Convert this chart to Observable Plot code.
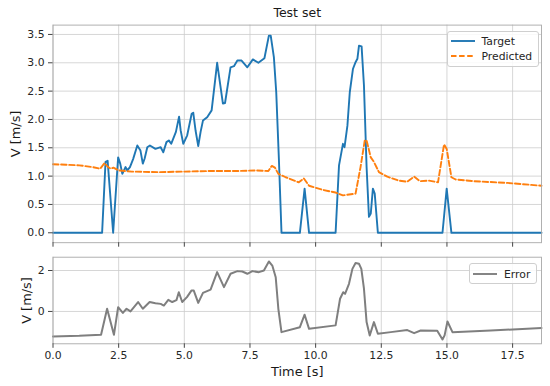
<!DOCTYPE html>
<html><head><meta charset="utf-8">
<script src="https://cdn.jsdelivr.net/npm/d3@7"></script>
<script src="https://cdn.jsdelivr.net/npm/@observablehq/plot@0.6"></script>
<style>
body{margin:0;background:#fff;}
#wrap{position:relative;width:550px;height:386px;font-family:"DejaVu Sans",sans-serif;color:#262626;}
#wrap svg{display:block;}
.panel{position:absolute;left:0;}
.legend{position:absolute;border:1px solid #cfcfcf;border-radius:3px;background:rgba(255,255,255,0.85);box-sizing:border-box;font-size:10.8px;}
.legend .row{position:absolute;left:0;height:14px;display:flex;align-items:center;white-space:nowrap;}
.legend .row svg{margin-right:7px;}
</style></head><body><div id="wrap"></div>
<script>
// ---- data ----
const targetT = [0,1.87,2.0,2.08,2.29,2.48,2.56,2.64,2.76,2.83,2.93,3.05,3.21,3.33,3.42,3.49,3.59,3.69,3.90,4.10,4.20,4.32,4.41,4.50,4.68,4.80,4.86,4.96,5.11,5.28,5.34,5.43,5.53,5.62,5.71,5.87,6.04,6.25,6.47,6.55,6.76,6.89,7.02,7.18,7.40,7.61,7.82,8.05,8.22,8.29,8.41,8.50,8.60,8.70,9.40,9.58,9.75,10.76,10.89,11.04,11.10,11.21,11.30,11.42,11.52,11.59,11.65,11.75,11.84,11.94,12.03,12.10,12.18,12.25,12.37,14.83,14.99,15.17,18.6];
const targetV = [0,0,1.25,1.27,0,1.33,1.22,1.04,1.16,1.10,1.16,1.30,1.54,1.45,1.22,1.31,1.51,1.54,1.48,1.51,1.42,1.60,1.63,1.57,1.78,2.05,1.81,1.57,1.72,2.10,2.12,1.80,1.53,1.78,1.98,2.04,2.16,3.00,2.28,2.29,2.92,2.94,3.04,3.04,2.92,3.06,3.00,3.08,3.48,3.48,3.10,2.48,1.31,0,0,0.78,0,0,1.19,1.57,1.51,1.89,2.48,2.89,3.01,3.07,3.30,3.29,2.60,1.16,0.28,0.34,0.78,0.69,0,0,0.78,0,0];

const predT = [0,0.5,1.0,1.5,1.8,1.96,2.1,2.2,2.3,2.5,3.0,4.0,5.0,6.0,7.0,7.7,8.2,8.33,8.45,8.58,8.86,9.36,9.55,9.75,10.25,10.76,11.04,11.52,11.71,11.87,11.94,12.10,12.22,12.41,12.73,13.17,13.49,13.75,13.97,14.32,14.66,14.89,14.99,15.17,15.33,16.03,17.30,18.6];
const predV = [1.21,1.20,1.19,1.16,1.13,1.23,1.16,1.13,1.15,1.10,1.08,1.07,1.08,1.09,1.09,1.10,1.09,1.18,1.15,1.04,0.98,0.89,0.96,0.83,0.76,0.71,0.66,0.69,1.16,1.63,1.63,1.33,1.25,1.07,0.99,0.92,0.90,0.99,0.91,0.92,0.89,1.56,1.48,0.98,0.94,0.91,0.88,0.83];

const errT = [0,1.0,1.83,2.06,2.32,2.48,2.66,2.80,2.95,3.24,3.42,3.68,3.90,4.10,4.22,4.39,4.54,4.70,4.79,4.92,5.10,5.27,5.36,5.53,5.71,6.0,6.25,6.51,6.76,7.02,7.21,7.40,7.59,7.84,8.03,8.22,8.35,8.48,8.58,8.70,9.40,9.58,9.75,10.76,10.93,11.05,11.12,11.27,11.40,11.52,11.65,11.74,11.84,11.94,12.06,12.22,12.37,12.86,13.49,13.75,14.0,14.63,14.83,14.91,15.02,15.21,16.67,18.6];
const errV = [-1.22,-1.19,-1.14,0.13,-1.14,0.21,-0.07,0.13,0.0,0.46,0.13,0.46,0.40,0.37,0.29,0.57,0.46,0.55,0.94,0.46,0.70,1.02,1.02,0.42,0.91,1.07,1.92,1.19,1.84,1.97,1.95,1.84,1.97,1.92,2.0,2.44,2.24,1.67,0.13,-1.01,-0.77,-0.16,-0.85,-0.68,0.62,0.94,0.86,1.35,2.08,2.37,2.33,2.08,1.11,-0.52,-1.17,-0.52,-1.09,-1.01,-0.91,-1.06,-0.93,-0.94,-1.37,-1.17,-0.49,-1.01,-0.93,-0.81];

const xTicks = [0,2.5,5,7.5,10,12.5,15,17.5];
const yTicksTop = [0,0.5,1,1.5,2,2.5,3,3.5];
const yTicksBottom = [0,2];
const seriesNames = ["Target","Predicted","Error"];
const seriesColors = ["#1f77b4","#ff7f0e","#7f7f7f"];
const titleText = "Test set";
const yLabel = "V [m/s]";
const xLabel = "Time [s]";

// ---- tables ----
const targetData = targetT.map((t,i)=>({t, v: targetV[i]}));
const predData = predT.map((t,i)=>({t, v: predV[i]}));
const errData = errT.map((t,i)=>({t, v: errV[i]}));

const gridStyle = {stroke:"#cccccc", strokeOpacity:1, strokeWidth:0.8};
const common = {
  width:550, marginLeft:52.5, marginRight:9,
  style:{fontFamily:"DejaVu Sans", fontSize:"10.8px", color:"#262626", background:"transparent", overflow:"visible"}
};
const xDomain = [0,18.6];

const topPlot = Plot.plot({
  ...common,
  height:250, marginTop:24.6, marginBottom:7.8,
  x:{domain:xDomain},
  y:{domain:[-0.175,3.665]},
  marks:[
    Plot.gridX(xTicks, gridStyle),
    Plot.gridY(yTicksTop, gridStyle),
    Plot.line(targetData, {x:"t", y:"v", stroke:seriesColors[0], strokeWidth:1.9, strokeLinejoin:"round"}),
    Plot.line(predData, {x:"t", y:"v", stroke:seriesColors[1], strokeWidth:1.9, strokeDasharray:"5.5,2.6"}),
    Plot.frame({stroke:"#a8a8a8", strokeWidth:0.9}),
    Plot.axisX(xTicks, {tickFormat:()=>"", tickSize:4.5, label:null, stroke:"#444"}),
    Plot.axisY(yTicksTop, {tickFormat:d3.format(".1f"), tickSize:4.5, tickPadding:4, label:null, stroke:"#444"}),
    Plot.text([titleText], {frameAnchor:"top", dy:-12.6, fontSize:12.5, lineAnchor:"middle", fill:"#1a1a1a"}),
    Plot.text([yLabel], {frameAnchor:"left", dx:-37.5, rotate:-90, fontSize:12.9, lineAnchor:"middle", textAnchor:"middle", fill:"#1a1a1a"})
  ]
});

const bottomPlot = Plot.plot({
  ...common,
  height:136, marginTop:6.7, marginBottom:42.7,
  x:{domain:xDomain},
  y:{domain:[-1.58,2.65]},
  marks:[
    Plot.gridX(xTicks, gridStyle),
    Plot.gridY(yTicksBottom, gridStyle),
    Plot.line(errData, {x:"t", y:"v", stroke:seriesColors[2], strokeWidth:2, strokeLinejoin:"round"}),
    Plot.frame({stroke:"#a8a8a8", strokeWidth:0.9}),
    Plot.axisX(xTicks, {tickFormat:d3.format(".1f"), tickSize:4.5, tickPadding:3, label:null, stroke:"#444"}),
    Plot.axisY(yTicksBottom, {tickFormat:d3.format("d"), tickSize:4.5, tickPadding:4, label:null, stroke:"#444"}),
    Plot.text([xLabel], {frameAnchor:"bottom", dy:28.4, fontSize:12.9, lineAnchor:"middle", fill:"#1a1a1a"}),
    Plot.text([yLabel], {frameAnchor:"left", dx:-26.5, rotate:-90, fontSize:12.9, lineAnchor:"middle", textAnchor:"middle", fill:"#1a1a1a"})
  ]
});

const wrap = document.getElementById("wrap");
const p1 = document.createElement("div"); p1.className="panel"; p1.style.top="0px"; p1.appendChild(topPlot);
const p2 = document.createElement("div"); p2.className="panel"; p2.style.top="250px"; p2.appendChild(bottomPlot);
wrap.appendChild(p1); wrap.appendChild(p2);

function legend(box, entries){
  const d = document.createElement("div");
  d.className = "legend";
  Object.assign(d.style, {left:box[0]+"px", top:box[1]+"px", width:box[2]+"px", height:box[3]+"px"});
  entries.forEach((e,i)=>{
    const r = document.createElement("div");
    r.className="row";
    r.style.top = (e.rowTop)+"px";
    r.style.left = "3px";
    r.innerHTML = `<svg width="24" height="6"><line x1="0" x2="24" y1="3" y2="3" stroke="${e.color}" stroke-width="1.9" ${e.dash?`stroke-dasharray="${e.dash}"`:""}/></svg><span>${e.name}</span>`;
    d.appendChild(r);
  });
  wrap.appendChild(d);
}
legend([446.5,31,92.5,36], [
  {name:seriesNames[0], color:seriesColors[0], rowTop:2},
  {name:seriesNames[1], color:seriesColors[1], dash:"5.5,2.6", rowTop:17}
]);
legend([469,263,68,21], [
  {name:seriesNames[2], color:seriesColors[2], rowTop:3}
]);
</script>
</body></html>
